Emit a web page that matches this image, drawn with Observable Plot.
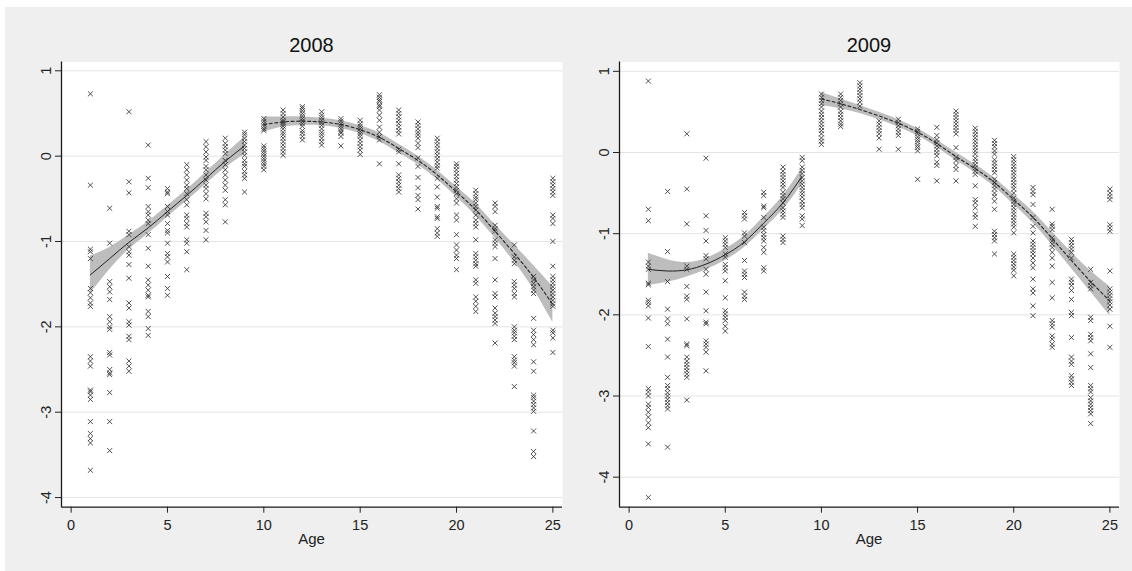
<!DOCTYPE html>
<html><head><meta charset="utf-8">
<script src="https://cdn.jsdelivr.net/npm/d3@7"></script>
<script src="https://cdn.jsdelivr.net/npm/@observablehq/plot@0.6"></script>
<style>
body{margin:0;background:#fff;}
#wrap{position:relative;width:1132px;height:571px;background:#fff;overflow:hidden;font-family:"Liberation Sans",Arial,sans-serif;}
#bg{position:absolute;left:5px;top:7px;right:0;bottom:0;background:#efefef;}
.panel{position:absolute;top:0;}
.title{position:absolute;top:34px;font-size:20px;color:#111;text-align:center;width:200px;}
.xlab{position:absolute;top:530px;font-size:15px;color:#222;text-align:center;width:100px;}
</style></head>
<body><div id="wrap"><div id="bg"></div></div>
<script>
// ---- categories / ticks ----
const ages = [1,2,3,4,5,6,7,8,9,10,11,12,13,14,15,16,17,18,19,20,21,22,23,24,25];
const lowAges = [1,2,3,4,5,6,7,8,9];
const highAges = [10,11,12,13,14,15,16,17,18,19,20,21,22,23,24,25];
const xTicks = [0,5,10,15,20,25];
const yTicks = [-4,-3,-2,-1,0,1];
const panelTitles = ["2008","2009"];
const xLabel = "Age";

// ---- 2008 observations (one list per age 1..25) ----
const scatter2008 = [
  [0.73,-0.34,-1.09,-1.12,-1.2,-1.55,-1.6,-1.66,-1.72,-1.76,-2.35,-2.4,-2.46,-2.74,-2.76,-2.8,-2.85,-3.11,-3.25,-3.31,-3.36,-3.68],
  [-0.61,-1.02,-1.47,-1.53,-1.59,-1.68,-1.88,-1.94,-2.0,-2.03,-2.3,-2.33,-2.5,-2.54,-2.56,-2.77,-3.11,-3.45],
  [0.52,-0.30,-0.43,-0.88,-0.92,-1.06,-1.12,-1.16,-1.27,-1.43,-1.72,-1.78,-1.94,-1.98,-2.11,-2.15,-2.4,-2.46,-2.52],
  [0.13,-0.26,-0.37,-0.59,-0.65,-0.69,-0.75,-0.79,-0.92,-1.08,-1.29,-1.45,-1.51,-1.57,-1.63,-1.65,-1.82,-1.88,-2.02,-2.1],
  [-0.38,-0.42,-0.44,-0.59,-0.65,-0.69,-0.79,-0.87,-0.9,-1.02,-1.14,-1.18,-1.24,-1.41,-1.55,-1.63],
  [-0.1,-0.16,-0.22,-0.28,-0.34,-0.38,-0.44,-0.51,-0.57,-0.69,-0.73,-0.79,-0.83,-0.98,-1.02,-1.12,-1.33],
  [0.17,0.11,0.05,-0.01,-0.05,-0.12,-0.16,-0.22,-0.28,-0.34,-0.38,-0.44,-0.5,-0.67,-0.71,-0.77,-0.87,-0.98],
  [0.21,0.15,0.11,0.07,0.03,-0.05,-0.1,-0.16,-0.22,-0.28,-0.34,-0.4,-0.51,-0.57,-0.77],
  [0.28,0.25,0.21,0.17,0.13,0.09,0.05,0.01,-0.05,-0.09,-0.12,-0.18,-0.22,-0.26,-0.42],
  [0.44,0.41,0.38,0.35,0.32,0.3,0.12,0.09,0.06,0.03,0,-0.03,-0.06,-0.09,-0.12,-0.16],
  [0.54,0.5,0.46,0.42,0.4,0.38,0.35,0.32,0.28,0.25,0.21,0.17,0.13,0.09,0.05,0.01],
  [0.58,0.56,0.53,0.5,0.47,0.44,0.41,0.38,0.35,0.3,0.27,0.23,0.19],
  [0.52,0.48,0.45,0.42,0.39,0.36,0.32,0.28,0.25,0.21,0.17,0.13],
  [0.44,0.41,0.38,0.35,0.32,0.29,0.27,0.23,0.12],
  [0.42,0.38,0.35,0.32,0.29,0.26,0.23,0.19,0.15,0.11,0.07,0.02],
  [0.72,0.69,0.66,0.64,0.6,0.58,0.54,0.48,0.42,0.34,0.28,0.23,0.19,-0.09],
  [0.54,0.5,0.46,0.42,0.38,0.34,0.3,0.26,0.08,0.05,-0.09,-0.22,-0.26,-0.3,-0.34,-0.38,-0.42],
  [0.4,0.36,0.32,0.28,0.25,0.21,0.15,0.1,-0.02,-0.12,-0.25,-0.37,-0.46,-0.51,-0.62],
  [0.21,0.17,0.13,0.09,0.05,0.01,-0.03,-0.07,-0.11,-0.14,-0.26,-0.36,-0.48,-0.59,-0.61,-0.71,-0.73,-0.85,-0.9,-0.94],
  [-0.09,-0.12,-0.16,-0.2,-0.24,-0.28,-0.32,-0.36,-0.4,-0.44,-0.5,-0.55,-0.69,-0.75,-0.92,-1.04,-1.1,-1.16,-1.2,-1.33],
  [-0.4,-0.44,-0.48,-0.51,-0.55,-0.59,-0.63,-0.69,-0.75,-0.79,-0.83,-0.98,-1.14,-1.18,-1.22,-1.26,-1.29,-1.45,-1.49,-1.65,-1.7,-1.76,-1.82],
  [-0.55,-0.59,-0.65,-0.81,-0.85,-0.88,-0.98,-1.02,-1.06,-1.2,-1.45,-1.61,-1.65,-1.78,-1.84,-1.88,-1.92,-1.96,-2.19],
  [-1.04,-1.18,-1.22,-1.26,-1.47,-1.51,-1.55,-1.61,-1.65,-2.0,-2.04,-2.07,-2.11,-2.15,-2.35,-2.39,-2.42,-2.46,-2.7],
  [-1.41,-1.45,-1.49,-1.53,-1.57,-1.61,-1.9,-2.04,-2.09,-2.15,-2.21,-2.41,-2.52,-2.8,-2.83,-2.87,-2.91,-2.95,-2.99,-3.22,-3.46,-3.52],
  [-0.26,-0.3,-0.34,-0.38,-0.42,-0.46,-0.69,-0.73,-0.79,-1.0,-1.29,-1.41,-1.45,-1.49,-1.53,-1.57,-1.61,-1.65,-1.69,-1.73,-1.76,-2.04,-2.07,-2.13,-2.3]
];
// ---- 2008 fitted curves and confidence half-widths ----
const fitLow2008  = [-1.39,-1.20,-1.01,-0.84,-0.65,-0.46,-0.26,-0.06,0.12];
const ciLow2008   = [0.22,0.13,0.085,0.07,0.065,0.065,0.07,0.08,0.10];
const fitHigh2008 = [0.37,0.40,0.41,0.40,0.37,0.31,0.22,0.09,-0.05,-0.22,-0.42,-0.63,-0.88,-1.14,-1.42,-1.74];
const ciHigh2008  = [0.09,0.06,0.05,0.045,0.045,0.045,0.05,0.05,0.05,0.055,0.06,0.07,0.08,0.10,0.14,0.21];

// ---- 2009 observations ----
const scatter2009 = [
  [0.88,-0.70,-0.84,-1.35,-1.4,-1.44,-1.61,-1.63,-1.82,-1.85,-1.89,-2.04,-2.39,-2.91,-2.95,-3.0,-3.1,-3.14,-3.2,-3.26,-3.33,-3.39,-3.59,-4.25],
  [-0.48,-1.22,-1.59,-1.93,-2.05,-2.11,-2.3,-2.52,-2.77,-2.87,-2.91,-2.96,-3.0,-3.04,-3.08,-3.12,-3.16,-3.63],
  [0.23,-0.45,-0.88,-1.4,-1.44,-1.65,-1.77,-1.81,-2.05,-2.36,-2.38,-2.52,-2.57,-2.61,-2.65,-2.69,-2.73,-2.77,-3.05],
  [-0.07,-0.78,-0.96,-1.09,-1.27,-1.31,-1.44,-1.5,-1.72,-1.95,-2.09,-2.11,-2.32,-2.36,-2.4,-2.46,-2.69],
  [-1.05,-1.09,-1.13,-1.17,-1.25,-1.29,-1.38,-1.42,-1.46,-1.58,-1.79,-1.95,-1.99,-2.03,-2.07,-2.14,-2.2],
  [-0.74,-0.78,-0.82,-0.99,-1.03,-1.11,-1.33,-1.46,-1.5,-1.54,-1.72,-1.77,-1.81],
  [-0.49,-0.53,-0.66,-0.68,-0.8,-0.92,-0.96,-1.01,-1.05,-1.09,-1.17,-1.23,-1.42,-1.46],
  [-0.18,-0.23,-0.27,-0.31,-0.35,-0.39,-0.43,-0.49,-0.53,-0.57,-0.62,-0.68,-0.72,-0.76,-0.8,-1.03,-1.07,-1.11],
  [-0.06,-0.1,-0.18,-0.22,-0.26,-0.31,-0.35,-0.39,-0.43,-0.47,-0.51,-0.55,-0.6,-0.64,-0.68,-0.78,-0.82,-0.9],
  [0.72,0.68,0.64,0.6,0.56,0.51,0.47,0.43,0.39,0.35,0.31,0.27,0.23,0.18,0.14,0.1],
  [0.72,0.68,0.64,0.6,0.56,0.51,0.47,0.43,0.39,0.35,0.32],
  [0.86,0.82,0.78,0.74,0.7,0.66,0.62,0.57],
  [0.39,0.35,0.31,0.27,0.23,0.18,0.04],
  [0.41,0.37,0.33,0.29,0.25,0.21,0.04],
  [0.29,0.26,0.23,0.19,0.16,0.13,0.09,0.06,0.02,-0.33],
  [0.31,0.21,0.16,0.12,0.08,0.04,0,-0.04,-0.12,-0.16,-0.35],
  [0.51,0.47,0.43,0.39,0.35,0.31,0.27,0.23,0.06,-0.06,-0.1,-0.16,-0.21,-0.35],
  [0.3,0.26,0.22,0.18,0.14,0.1,0.06,0.02,-0.02,-0.07,-0.11,-0.15,-0.19,-0.23,-0.27,-0.41,-0.58,-0.62,-0.68,-0.76,-0.8,-0.91],
  [0.15,0.11,0.07,0.02,-0.02,-0.09,-0.13,-0.17,-0.21,-0.25,-0.33,-0.37,-0.41,-0.45,-0.5,-0.54,-0.6,-0.7,-0.97,-1.01,-1.05,-1.09,-1.25],
  [-0.05,-0.09,-0.13,-0.17,-0.21,-0.25,-0.29,-0.33,-0.37,-0.41,-0.45,-0.5,-0.56,-0.6,-0.64,-0.68,-0.72,-0.76,-0.8,-0.84,-0.88,-0.92,-0.99,-1.25,-1.29,-1.33,-1.37,-1.41,-1.45,-1.52],
  [-0.43,-0.48,-0.52,-0.64,-0.8,-0.91,-0.99,-1.09,-1.13,-1.17,-1.21,-1.25,-1.3,-1.36,-1.42,-1.56,-1.68,-1.73,-1.89,-2.01],
  [-0.7,-0.88,-0.91,-0.95,-1.05,-1.09,-1.13,-1.17,-1.23,-1.3,-1.4,-1.6,-1.79,-2.07,-2.11,-2.15,-2.26,-2.3,-2.36,-2.4],
  [-1.07,-1.11,-1.15,-1.19,-1.23,-1.3,-1.56,-1.6,-1.64,-1.7,-1.81,-1.97,-2.01,-2.28,-2.52,-2.57,-2.61,-2.75,-2.79,-2.83,-2.87],
  [-1.44,-1.6,-1.64,-1.68,-2.03,-2.07,-2.24,-2.28,-2.32,-2.48,-2.65,-2.87,-2.91,-2.95,-3.02,-3.06,-3.1,-3.14,-3.18,-3.22,-3.34],
  [-0.45,-0.5,-0.54,-0.58,-0.89,-0.93,-0.97,-1.46,-1.68,-1.72,-1.76,-1.8,-1.84,-1.88,-1.93,-2.14,-2.4]
];
// ---- 2009 fitted curves and confidence half-widths ----
const fitLow2009  = [-1.44,-1.46,-1.445,-1.375,-1.26,-1.10,-0.87,-0.62,-0.29];
const ciLow2009   = [0.20,0.14,0.09,0.07,0.07,0.07,0.075,0.085,0.10];
const fitHigh2009 = [0.66,0.60,0.53,0.45,0.36,0.25,0.11,-0.05,-0.20,-0.37,-0.58,-0.80,-1.06,-1.33,-1.59,-1.83];
const ciHigh2009  = [0.08,0.06,0.05,0.045,0.045,0.045,0.045,0.05,0.05,0.055,0.06,0.07,0.08,0.10,0.13,0.18];

// ---- scale domains ----
const xDomain = [-0.5, 25.5];
const yDomain2008 = [-4.113, 1.103];
const yDomain2009 = [-4.37, 1.115];

function fitRows(a, fit, ci) {
  return a.map((age, i) => ({age, fit: fit[i], lo: fit[i] - ci[i], hi: fit[i] + ci[i]}));
}

function makePanel(cfg) {
  const pts = [];
  cfg.scatter.forEach((vals, i) => vals.forEach(v => pts.push({age: ages[i], v})));
  const low = fitRows(lowAges, cfg.fitLow, cfg.ciLow);
  const high = fitRows(highAges, cfg.fitHigh, cfg.ciHigh);
  return Plot.plot({
    width: 566, height: 571,
    marginLeft: cfg.ml, marginRight: cfg.mr, marginTop: 61.5, marginBottom: 64.3,
    x: {domain: xDomain},
    y: {domain: cfg.yDomain},
    style: {background: "transparent", fontFamily: "'Liberation Sans', Arial, sans-serif", fontSize: "14.5px", color: "#222", overflow: "visible"},
    marks: [
      Plot.frame({fill: "white", stroke: "none"}),
      Plot.gridY(yTicks, {stroke: "#e4e4e4", strokeOpacity: 1, strokeWidth: 1}),
      Plot.areaY(low, {x: "age", y1: "lo", y2: "hi", fill: "#bdbdbd", fillOpacity: 1, curve: "natural"}),
      Plot.areaY(high, {x: "age", y1: "lo", y2: "hi", fill: "#bdbdbd", fillOpacity: 1, curve: "natural"}),
      Plot.dot(pts, {x: "age", y: "v", symbol: "times", r: 2.4, stroke: "#333", strokeWidth: 0.85}),
      Plot.line(low, {x: "age", y: "fit", stroke: "#222", strokeWidth: 1, curve: "natural"}),
      Plot.line(high, {x: "age", y: "fit", stroke: "#222", strokeWidth: 1.1, strokeDasharray: "3,2.5", curve: "natural"}),
      Plot.ruleX([xDomain[0]], {stroke: "#1a1a1a", strokeWidth: 1.3}),
      Plot.ruleY([cfg.yDomain[0]], {stroke: "#1a1a1a", strokeWidth: 1.3}),
      Plot.axisX(xTicks, {tickSize: 6, tickPadding: 7, label: null, fontSize: 14.5, tickFormat: d => String(d)}),
      Plot.axisY(yTicks, {tickSize: 6, tickPadding: 5, tickRotate: -90, label: null, fontSize: 14.5, tickFormat: d => String(d)})
    ]
  });
}

const wrap = document.getElementById("wrap");
const panels = [
  {left: 0, ml: 61, mr: 4, scatter: scatter2008, fitLow: fitLow2008, ciLow: ciLow2008, fitHigh: fitHigh2008, ciHigh: ciHigh2008, yDomain: yDomain2008},
  {left: 566, ml: 53, mr: 13, scatter: scatter2009, fitLow: fitLow2009, ciLow: ciLow2009, fitHigh: fitHigh2009, ciHigh: ciHigh2009, yDomain: yDomain2009}
];
panels.forEach((cfg, i) => {
  const svg = makePanel(cfg);
  svg.classList.add("panel");
  svg.style.left = cfg.left + "px";
  svg.style.position = "absolute";
  svg.style.top = "0px";
  wrap.appendChild(svg);
  const cx = cfg.left + cfg.ml + (566 - cfg.ml - cfg.mr) / 2;
  const t = document.createElement("div");
  t.className = "title";
  t.textContent = panelTitles[i];
  t.style.left = (cx - 100) + "px";
  wrap.appendChild(t);
  const xl = document.createElement("div");
  xl.className = "xlab";
  xl.textContent = xLabel;
  xl.style.left = (cx - 50) + "px";
  wrap.appendChild(xl);
});
</script>
</body></html>
